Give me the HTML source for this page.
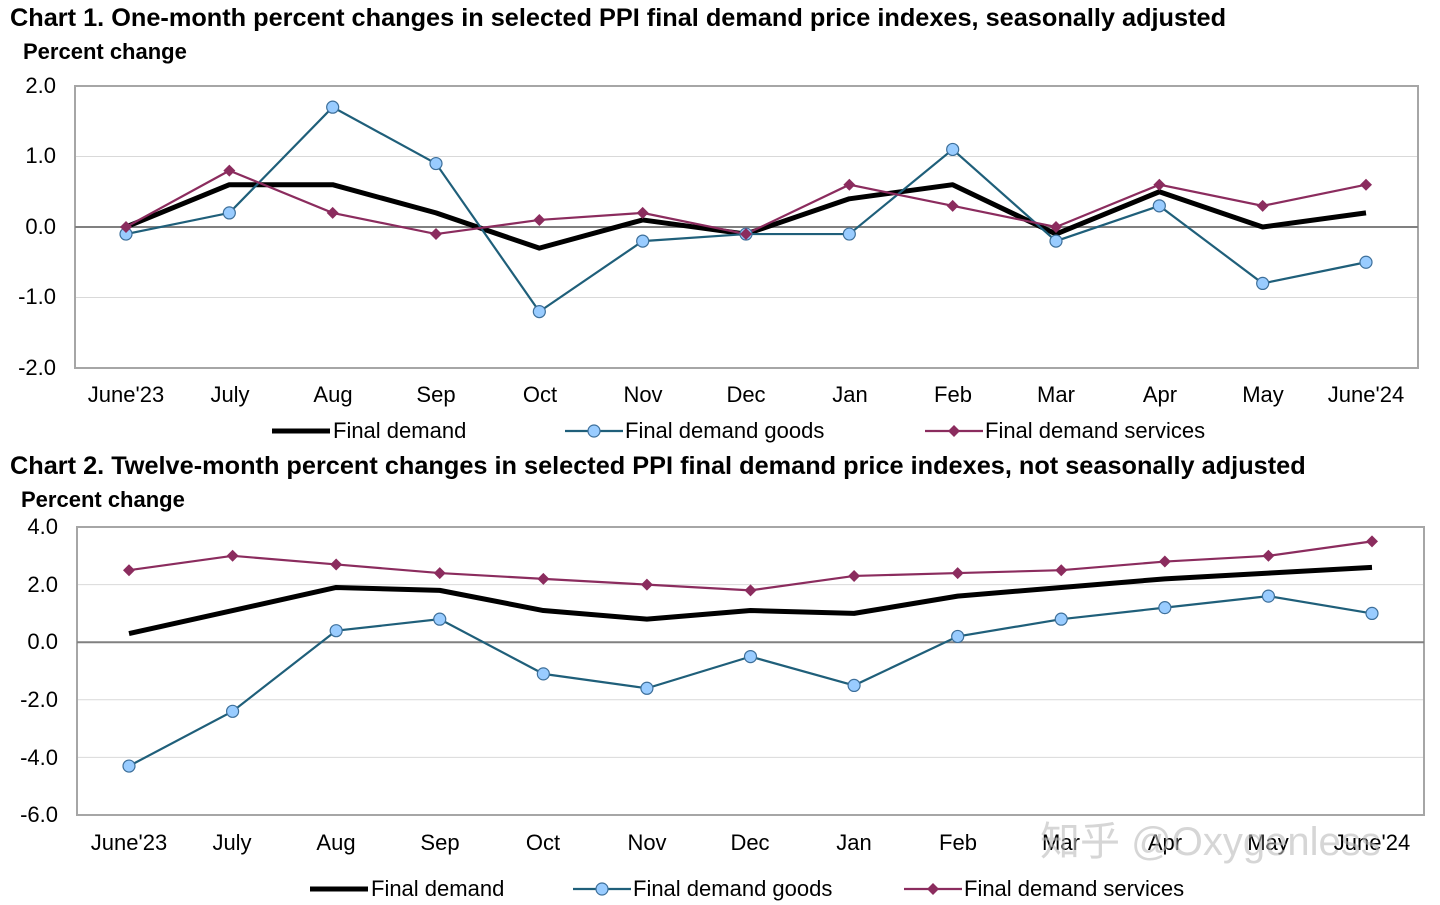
<!DOCTYPE html>
<html><head><meta charset="utf-8"><style>
body{margin:0;background:#fff;width:1440px;height:905px;overflow:hidden}
svg{display:block}
text{font-family:"Liberation Sans",Arial,sans-serif;fill:#000}
.t{font-weight:bold;font-size:25.3px}
.p{font-weight:bold;font-size:22px}
.a{font-size:22px}
</style></head><body>
<svg id="s" width="1440" height="905" viewBox="0 0 1440 905">
<text class="t" x="10" y="26">Chart 1. One-month percent changes in selected PPI final demand price indexes, seasonally adjusted</text>
<text class="p" x="23" y="59">Percent change</text>
<g class="a" text-anchor="end">
<text x="56" y="93">2.0</text><text x="56" y="163">1.0</text><text x="56" y="234">0.0</text><text x="56" y="304">-1.0</text><text x="56" y="375">-2.0</text>
</g>
<g class="a" text-anchor="middle">
<text x="126" y="402">June'23</text><text x="230" y="402">July</text><text x="333" y="402">Aug</text><text x="436" y="402">Sep</text><text x="540" y="402">Oct</text><text x="643" y="402">Nov</text><text x="746" y="402">Dec</text><text x="850" y="402">Jan</text><text x="953" y="402">Feb</text><text x="1056" y="402">Mar</text><text x="1160" y="402">Apr</text><text x="1263" y="402">May</text><text x="1366" y="402">June'24</text>
</g>
<g class="a">
<text x="333" y="438">Final demand</text><text x="625" y="438">Final demand goods</text><text x="985" y="438">Final demand services</text>
</g>
<text class="t" x="10" y="474">Chart 2. Twelve-month percent changes in selected PPI final demand price indexes, not seasonally adjusted</text>
<text class="p" x="21" y="507">Percent change</text>
<g class="a" text-anchor="end">
<text x="58" y="534">4.0</text><text x="58" y="592">2.0</text><text x="58" y="649">0.0</text><text x="58" y="707">-2.0</text><text x="58" y="765">-4.0</text><text x="58" y="822">-6.0</text>
</g>
<g class="a" text-anchor="middle">
<text x="129" y="850">June'23</text><text x="232" y="850">July</text><text x="336" y="850">Aug</text><text x="440" y="850">Sep</text><text x="543" y="850">Oct</text><text x="647" y="850">Nov</text><text x="750" y="850">Dec</text><text x="854" y="850">Jan</text><text x="958" y="850">Feb</text><text x="1061" y="850">Mar</text><text x="1165" y="850">Apr</text><text x="1268" y="850">May</text><text x="1372" y="850">June'24</text>
</g>
<g class="a">
<text x="371" y="896">Final demand</text><text x="633" y="896">Final demand goods</text><text x="964" y="896">Final demand services</text>
</g>
<text x="1040" y="855" style="font-size:40px;fill:#bbb;opacity:0.6;font-family:'Liberation Sans','Noto Sans CJK SC',sans-serif">知乎 @Oxygenless</text>
</svg>
<script>
var s=document.getElementById('s'),NS='http://www.w3.org/2000/svg';
function el(t,a){var e=document.createElementNS(NS,t);for(var k in a)e.setAttribute(k,a[k]);s.appendChild(e);return e;}
function chart(c){
 var x0=c.x0,x1=c.x1,yt=c.yt,yb=c.yb,mn=c.mn,mx=c.mx;
 function Y(v){return yt+(mx-v)/(mx-mn)*(yb-yt);}
 function X(i){return c.px0+i*(c.px1-c.px0)/12;}
 for(var v=mn;v<=mx+1e-9;v+=c.st){el('line',{x1:x0,x2:x1,y1:Y(v),y2:Y(v),stroke:'#d9d9d9','stroke-width':1});}
 el('rect',{x:x0,y:yt,width:x1-x0,height:yb-yt,fill:'none',stroke:'#a6a6a6','stroke-width':2});
 el('line',{x1:x0,x2:x1,y1:Y(0),y2:Y(0),stroke:'#808080','stroke-width':2});
 function pts(d){return d.map(function(v,i){return X(i)+','+Y(v)}).join(' ');}
 el('polyline',{points:pts(c.fd),fill:'none',stroke:'#000','stroke-width':5,'stroke-linejoin':'round'});
 el('polyline',{points:pts(c.g),fill:'none',stroke:'#1f5f7a','stroke-width':2.2});
 el('polyline',{points:pts(c.sv),fill:'none',stroke:'#8b2c5e','stroke-width':2.2});
 c.g.forEach(function(v,i){el('circle',{cx:X(i),cy:Y(v),r:6,fill:'#99ccff',stroke:'#3d6f9a','stroke-width':1.2});});
 c.sv.forEach(function(v,i){var x=X(i),y=Y(v);el('polygon',{points:(x)+','+(y-6)+' '+(x+6)+','+y+' '+x+','+(y+6)+' '+(x-6)+','+y,fill:'#8b2c5e'});});
 var ly=c.ly,L=c.leg;
 el('line',{x1:L[0],x2:L[0]+58,y1:ly,y2:ly,stroke:'#000','stroke-width':5});
 el('line',{x1:L[1],x2:L[1]+58,y1:ly,y2:ly,stroke:'#1f5f7a','stroke-width':2.2});
 el('circle',{cx:L[1]+29,cy:ly,r:6,fill:'#99ccff',stroke:'#3d6f9a','stroke-width':1.2});
 el('line',{x1:L[2],x2:L[2]+58,y1:ly,y2:ly,stroke:'#8b2c5e','stroke-width':2.2});
 var x=L[2]+29;el('polygon',{points:x+','+(ly-6)+' '+(x+6)+','+ly+' '+x+','+(ly+6)+' '+(x-6)+','+ly,fill:'#8b2c5e'});
}
chart({x0:75,x1:1418,yt:86,yb:368,mn:-2,mx:2,st:1,px0:126,px1:1366,ly:431,leg:[272,565,925],
 fd:[0,0.6,0.6,0.2,-0.3,0.1,-0.1,0.4,0.6,-0.1,0.5,0,0.2],
 g:[-0.1,0.2,1.7,0.9,-1.2,-0.2,-0.1,-0.1,1.1,-0.2,0.3,-0.8,-0.5],
 sv:[0,0.8,0.2,-0.1,0.1,0.2,-0.1,0.6,0.3,0,0.6,0.3,0.6]});
chart({x0:77,x1:1424,yt:527,yb:815,mn:-6,mx:4,st:2,px0:129,px1:1372,ly:889,leg:[310,573,904],
 fd:[0.3,1.1,1.9,1.8,1.1,0.8,1.1,1.0,1.6,1.9,2.2,2.4,2.6],
 g:[-4.3,-2.4,0.4,0.8,-1.1,-1.6,-0.5,-1.5,0.2,0.8,1.2,1.6,1.0],
 sv:[2.5,3.0,2.7,2.4,2.2,2.0,1.8,2.3,2.4,2.5,2.8,3.0,3.5]});
</script>
</body></html>
